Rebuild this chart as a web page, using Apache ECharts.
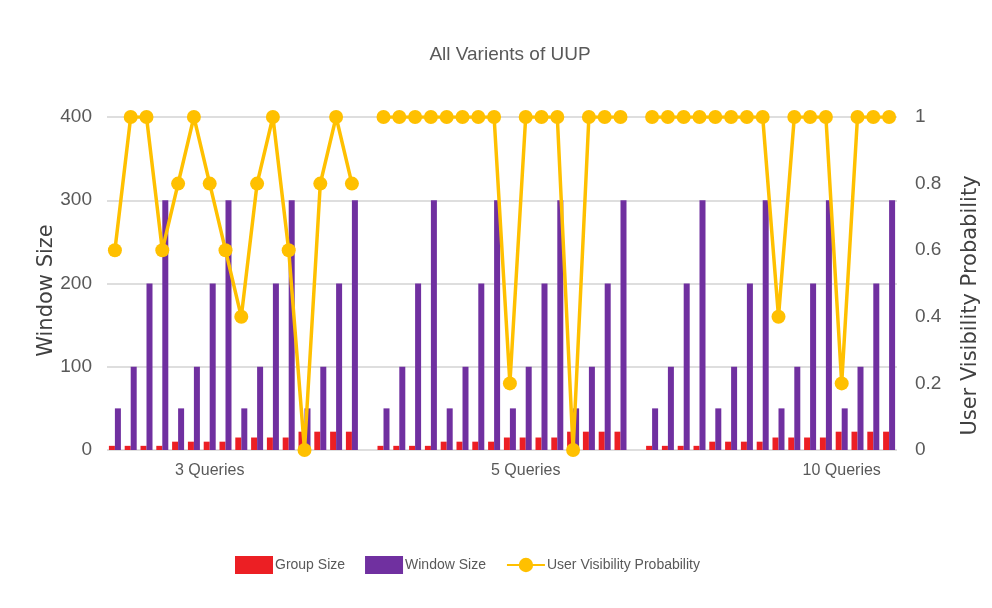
<!DOCTYPE html>
<html>
<head>
<meta charset="utf-8">
<script src="https://cdn.jsdelivr.net/npm/echarts@6/dist/echarts.min.js"></script>
<style>
  html, body { margin: 0; padding: 0; background: #ffffff; }
  #chart { width: 992px; height: 608px; }
</style>
</head>
<body>
<div id="chart"></div>
<script>
// Query groups and the label shown under each block of bars
const groupNames = ['3 Queries', '5 Queries', '10 Queries'];
const groupLabelSlot = [6, 9, 12];   // which of the 16 runs carries the group label

// Per-run group size (same for every query group)
const groupSize = [5, 5, 5, 5, 10, 10, 10, 10, 15, 15, 15, 15, 22, 22, 22, 22];

// Per-run window size (same for every query group)
const windowSize = [50, 100, 200, 300, 50, 100, 200, 300, 50, 100, 200, 300, 50, 100, 200, 300];

// User visibility probability per run, one list per query group
const visibility3 = [0.6, 1, 1, 0.6, 0.8, 1, 0.8, 0.6, 0.4, 0.8, 1, 0.6, 0, 0.8, 1, 0.8];
const visibility5 = [1, 1, 1, 1, 1, 1, 1, 1, 0.2, 1, 1, 1, 0, 1, 1, 1];
const visibility10 = [1, 1, 1, 1, 1, 1, 1, 1, 0.4, 1, 1, 1, 0.2, 1, 1, 1];

// Left axis ticks (window size) and right axis ticks (probability)
const leftTicks = [0, 100, 200, 300, 400];
const rightTicks = [0, 0.2, 0.4, 0.6, 0.8, 1];

// Build a flat category axis: 16 runs per group, one empty slot between groups
const categories = [];
const groupSeries = [];
const windowSeries = [];
const visSeries = [];
const visGroups = [visibility3, visibility5, visibility10];
groupNames.forEach((name, g) => {
  if (g > 0) {
    categories.push('');
    groupSeries.push(null);
    windowSeries.push(null);
    visSeries.push(null);
  }
  for (let i = 0; i < 16; i++) {
    categories.push(i === groupLabelSlot[g] ? name : '');
    groupSeries.push(groupSize[i]);
    windowSeries.push(windowSize[i]);
    visSeries.push(visGroups[g][i]);
  }
});

const sans = '"Liberation Sans", Arial, sans-serif';
const textGray = '#595959';

const chart = echarts.init(document.getElementById('chart'), null, { renderer: 'canvas' });
chart.setOption({
  animation: false,
  backgroundColor: '#ffffff',
  title: {
    text: 'All Varients of UUP',
    left: 505,
    top: 40,
    textAlign: 'center',
    textStyle: { fontFamily: sans, fontSize: 19, fontWeight: 'normal', color: textGray }
  },
  legend: {
    left: 230,
    top: 551,
    itemWidth: 38,
    itemHeight: 18,
    itemGap: 20,
    textStyle: { fontFamily: sans, fontSize: 14, color: textGray, padding: [0, 0, 0, -3] },
    data: [
      { name: 'Group Size', icon: 'rect' },
      { name: 'Window Size', icon: 'rect' },
      { name: 'User Visibility Probability' }
    ]
  },
  grid: { left: 107, right: 95, top: 117, bottom: 158, containLabel: false },
  xAxis: {
    type: 'category',
    data: categories,
    boundaryGap: true,
    axisLine: { show: false },
    axisTick: { show: false },
    axisLabel: {
      interval: 0,
      margin: 13,
      fontFamily: sans,
      fontSize: 16,
      color: textGray
    }
  },
  yAxis: [
    {
      type: 'value',
      min: leftTicks[0],
      max: leftTicks[leftTicks.length - 1],
      interval: leftTicks[1] - leftTicks[0],
      name: 'Window Size',
      nameLocation: 'middle',
      nameGap: 50,
      nameMoveOverlap: false,
      nameRotate: 90,
      nameTextStyle: { fontFamily: '"DejaVu Sans", sans-serif', fontSize: 21, color: '#404040', padding: [0, 14, 0, 0] },
      axisLine: { show: false },
      axisTick: { show: false },
      axisLabel: { margin: 15, fontFamily: sans, fontSize: 19, color: textGray },
      splitLine: { lineStyle: { color: '#dedede', width: 2 } }
    },
    {
      type: 'value',
      min: rightTicks[0],
      max: rightTicks[rightTicks.length - 1],
      interval: rightTicks[1] - rightTicks[0],
      name: 'User Visibility Probability',
      nameLocation: 'middle',
      nameGap: 63,
      nameMoveOverlap: false,
      nameRotate: 90,
      nameTextStyle: { fontFamily: '"DejaVu Sans", sans-serif', fontSize: 21, color: '#404040', padding: [0, 44, 0, 0] },
      axisLine: { show: false },
      axisTick: { show: false },
      axisLabel: { margin: 18, fontFamily: sans, fontSize: 19, color: textGray },
      splitLine: { show: false }
    }
  ],
  series: [
    {
      name: 'Group Size',
      type: 'bar',
      yAxisIndex: 0,
      data: groupSeries,
      barWidth: 6,
      barGap: '0%',
      itemStyle: { color: '#ec1f24' }
    },
    {
      name: 'Window Size',
      type: 'bar',
      yAxisIndex: 0,
      data: windowSeries,
      barWidth: 6,
      barGap: '0%',
      itemStyle: { color: '#7030a0' }
    },
    {
      name: 'User Visibility Probability',
      type: 'line',
      yAxisIndex: 1,
      data: visSeries,
      connectNulls: false,
      symbol: 'circle',
      symbolSize: 14,
      lineStyle: { color: '#ffc000', width: 3.5 },
      itemStyle: { color: '#ffc000' },
      z: 5
    }
  ]
});
</script>
</body>
</html>
